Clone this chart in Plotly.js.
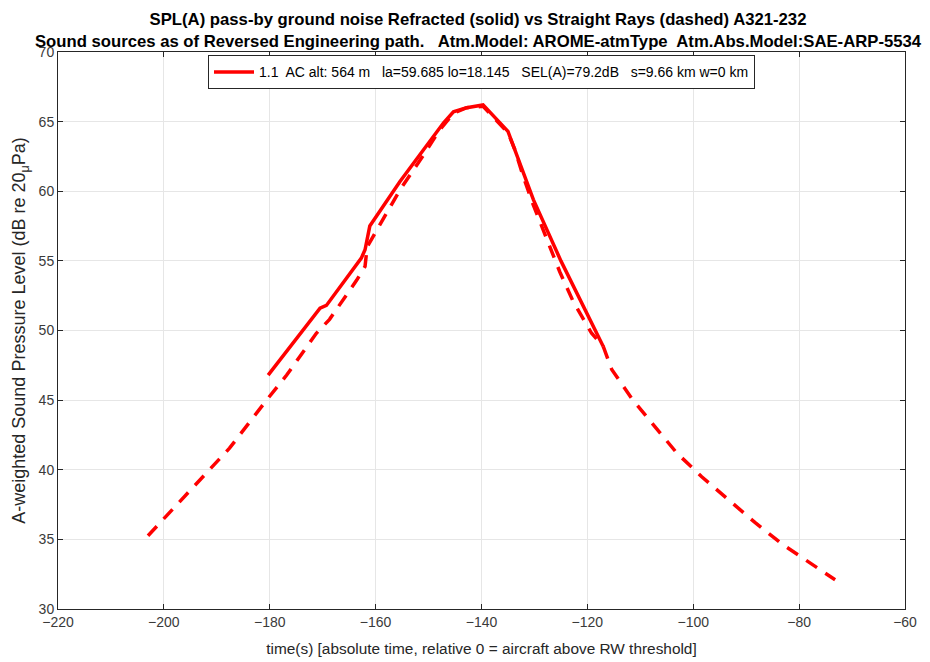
<!DOCTYPE html>
<html>
<head>
<meta charset="utf-8">
<script src="https://cdn.plot.ly/plotly-3.0.1.min.js"></script>
<style>html,body{margin:0;padding:0;background:#fff;}#chart{width:930px;height:662px;}</style>
</head>
<body>
<div id="chart"></div>
<script>
// Refracted rays (solid)
const solidTime = [-180.3, -170.5, -169.3, -162.7, -162.0, -161.1, -155.4, -151.0, -147.2, -145.3, -142.8, -139.7, -135.0, -130.2, -125.0, -117.0];
const solidSPL  = [46.8, 51.6, 51.8, 55.2, 55.8, 57.5, 60.7, 63.0, 64.9, 65.7, 66.0, 66.2, 64.3, 59.4, 55.0, 48.85];

// Straight rays (dashed)
const dashTime = [-203.0, -193.9, -187.6, -180.6, -176.8, -171.2, -168.7, -163.6, -162.0, -161.6, -159.8, -155.4, -151.3, -147.9, -145.3, -142.8, -139.7, -135.0, -133.7, -132.1, -130.2, -127.7, -125.2, -122.7, -119.2, -117.0, -115.4, -111.6, -107.2, -103.1, -98.4, -93.4, -88.3, -83.0, -77.6, -73.2];
const dashSPL  = [35.26, 39.0, 41.55, 45.0, 46.8, 49.8, 50.8, 53.6, 54.6, 56.0, 57.2, 60.1, 62.4, 64.4, 65.6, 66.0, 66.1, 64.2, 63.0, 61.05, 59.0, 56.6, 54.2, 52.1, 49.8, 48.85, 47.2, 45.1, 43.1, 41.2, 39.5, 37.85, 36.2, 34.6, 33.2, 32.1];

const xTicks = [-220, -200, -180, -160, -140, -120, -100, -80, -60];
const yTicks = [30, 35, 40, 45, 50, 55, 60, 65, 70];

const legendLabel = "1.1  AC alt: 564 m   la=59.685 lo=18.145   SEL(A)=79.2dB   s=9.66 km w=0 km";
const titleLine1 = "SPL(A) pass-by ground noise Refracted (solid) vs Straight Rays (dashed) A321-232";
const titleLine2 = "Sound sources as of Reversed Engineering path.   Atm.Model: AROME-atmType  Atm.Abs.Model:SAE-ARP-5534";
const xTitle = "time(s) [absolute time, relative 0 = aircraft above RW threshold]";
const yTitle = "A-weighted Sound Pressure Level (dB re 20<sub>μ</sub>Pa)";

const font = "Liberation Sans, Arial, sans-serif";

const traces = [
  {x: solidTime, y: solidSPL, type: 'scatter', mode: 'lines', name: legendLabel,
   line: {color: '#ff0000', width: 3.5, shape: 'linear'}, showlegend: true},
  {x: dashTime, y: dashSPL, type: 'scatter', mode: 'lines', name: 'straight',
   line: {color: '#ff0000', width: 3.5, dash: '13px,10px'}, showlegend: false}
];

const axisCommon = {
  showgrid: true, gridcolor: '#e6e6e6', gridwidth: 1,
  zeroline: false, showline: true, linecolor: '#262626', linewidth: 1, mirror: 'ticks',
  ticks: 'inside', ticklen: 5, tickcolor: '#262626',
  tickfont: {family: font, size: 14, color: '#3a3a3a'}
};

const layout = {
  width: 930, height: 662,
  margin: {l: 58, r: 25, t: 52, b: 53},
  paper_bgcolor: '#ffffff', plot_bgcolor: '#ffffff',
  font: {family: font, color: '#262626'},
  title: {text: '<b>' + titleLine1 + '</b><br><b>' + titleLine2 + '</b>',
          font: {family: font, size: 16.7, color: '#000000'},
          x: 0.514, xanchor: 'center', yref: 'container', y: 0.962, yanchor: 'top'},
  xaxis: Object.assign({}, axisCommon, {
    range: [-220, -60], tickvals: xTicks,
    title: {text: xTitle, font: {family: font, size: 15.4, color: '#262626'}, standoff: 14}
  }),
  yaxis: Object.assign({}, axisCommon, {
    range: [30, 70], tickvals: yTicks,
    title: {text: yTitle, font: {family: font, size: 18, color: '#262626'}, standoff: 8}
  }),
  legend: {x: 0.5, xanchor: 'center', y: 0.994, yanchor: 'top',
           bgcolor: '#ffffff', bordercolor: '#262626', borderwidth: 1,
           font: {family: font, size: 14, color: '#000000'}, itemwidth: 40,
           tracegroupgap: 0},
  showlegend: true
};

Plotly.newPlot('chart', traces, layout, {displayModeBar: false, staticPlot: true});
</script>
</body>
</html>
